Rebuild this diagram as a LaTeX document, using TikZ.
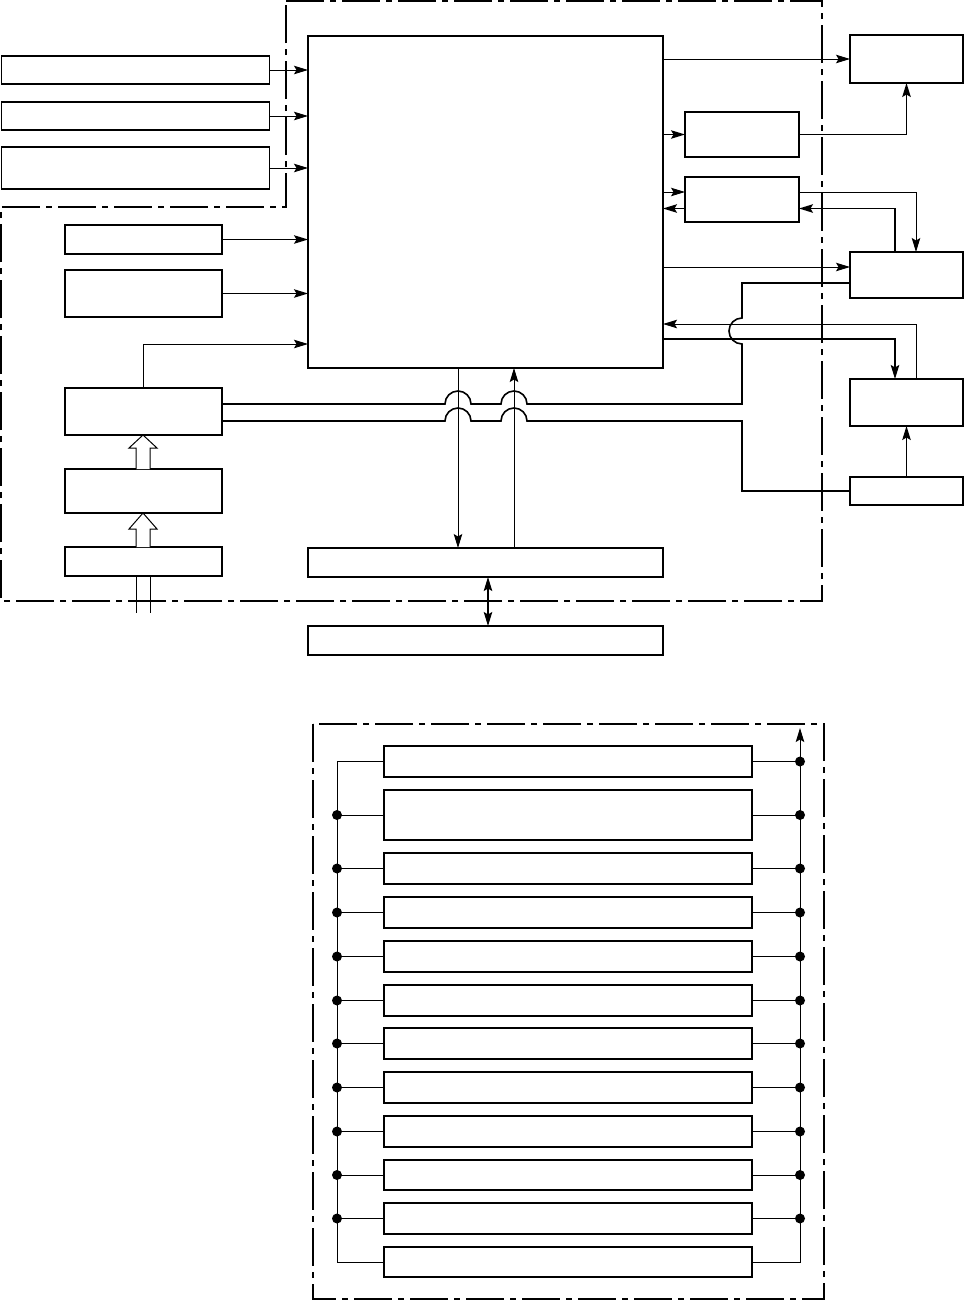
\documentclass[tikz,border=0pt]{standalone}
\usetikzlibrary{arrows.meta}
\begin{document}
\begin{tikzpicture}[x=1pt,y=-1pt,
  box/.style={draw, line width=1.6pt, inner sep=0pt, outer sep=0pt, anchor=north west},
  arr/.style={-{Stealth[length=14pt,width=8.5pt,inset=2.5pt]}, line width=1pt},
  darr/.style={{Stealth[length=14pt,width=8.5pt,inset=2.5pt]}-{Stealth[length=14pt,width=8.5pt,inset=2.5pt]}, line width=1.4pt},
  ln/.style={line width=1pt},
  thk/.style={line width=1.6pt},
  frame/.style={line width=2pt, dash pattern=on 38pt off 6pt on 6pt off 6pt},
  hollow/.style={line width=1pt, fill=white},
  dot/.style={circle, fill, inner sep=0pt, minimum size=10pt}]
\useasboundingbox (0,0) rectangle (965,1302);

% frames
\draw[frame] (286,1) -- (822,1) -- (822,601) -- (1,601) -- (1,207) -- (286,207) -- cycle;
\draw[frame] (313,724) rectangle (824,1299);

% left boxes
\node[box, minimum width=268pt, minimum height=28pt] (L1) at (1.5,56) {};
\node[box, minimum width=268pt, minimum height=28pt] (L2) at (1.5,102) {};
\node[box, minimum width=268pt, minimum height=42pt] (L3) at (1.5,147) {};
\node[box, minimum width=157pt, minimum height=29pt] (L4) at (65,225) {};
\node[box, minimum width=157pt, minimum height=47pt] (L5) at (65,270) {};
\node[box, minimum width=157pt, minimum height=47pt] (L6) at (65,388) {};
\node[box, minimum width=157pt, minimum height=44pt] (L7) at (65,469) {};
\node[box, minimum width=157pt, minimum height=29pt] (L8) at (65,547) {};

% main and bottom boxes
\node[box, minimum width=355pt, minimum height=332pt] (M) at (308,36) {};
\node[box, minimum width=355pt, minimum height=29pt] (B1) at (308,548) {};
\node[box, minimum width=355pt, minimum height=29pt] (B2) at (308,626) {};

% right boxes
\node[box, minimum width=113pt, minimum height=48pt] (R1) at (850,35) {};
\node[box, minimum width=114pt, minimum height=45pt] (R2) at (685,112) {};
\node[box, minimum width=114pt, minimum height=45pt] (R3) at (685,177) {};
\node[box, minimum width=113pt, minimum height=46pt] (R4) at (850,252) {};
\node[box, minimum width=113pt, minimum height=47pt] (R5) at (850,379) {};
\node[box, minimum width=113pt, minimum height=28pt] (R6) at (850,477) {};

% left inputs
\draw[arr] (L1.east) -- (L1.east -| M.west);
\draw[arr] (L2.east) -- (L2.east -| M.west);
\draw[arr] (L3.east) -- (L3.east -| M.west);
\draw[arr] (L4.east) -- (L4.east -| M.west);
\draw[arr] (L5.east) -- (L5.east -| M.west);
\draw[arr] (L6.north) |- (M.west |- 0,344);

% hollow arrows
\draw[hollow] (136,469) -- (136,448) -- (129,448) -- (143,435) -- (157,448) -- (150,448) -- (150,469);
\draw[hollow] (136,547) -- (136,529) -- (129,529) -- (143,513) -- (157,529) -- (150,529) -- (150,547);
\draw[ln] (136,576) -- (136,613);
\draw[ln] (150,576) -- (150,613);

% right side
\draw[arr] (M.east |- R1.west) -- (R1.west);
\draw[arr] (M.east |- R2.west) -- (R2.west);
\draw[arr, line width=1.3pt] (R2.east) -| (R1.south);
\draw[arr] (M.east |- 0,192) -- (R3.west |- 0,192);
\draw[arr] (R3.west |- 0,208.5) -- (M.east |- 0,208.5);
\draw[arr] (R3.east |- 0,192) -| (R4.north -| 916,0);
\draw[arr, line width=1.4pt] (R4.north -| 895,0) |- (R3.east |- 0,208.5);
\draw[arr] (M.east |- 0,267) -- (R4.west |- 0,267);
\draw[arr] (R5.north -| 916,0) |- (M.east |- 0,324);
\draw[arr, line width=1.4pt] (M.east |- 0,339) -| (R5.north -| 895,0);
\draw[arr] (R6.north) -- (R5.south);

% vertical links main <-> B1
\draw[arr] (M.south -| 458,0) -- (B1.north -| 458,0);
\draw[arr] (B1.north -| 514,0) -- (M.south -| 514,0);
\draw[darr] (B1.south -| 488,0) -- (B2.north -| 488,0);

% double lines with hops
\draw[thk] (L6.east |- 0,404) -- (445,404) arc[start angle=180, end angle=360, radius=13]
  -- (501,404) arc[start angle=180, end angle=360, radius=13]
  -- (742,404) -- (742,344) arc[start angle=90, end angle=270, radius=13]
  -- (742,283) -- (R4.west |- 0,283);
\draw[thk] (L6.east |- 0,421) -- (445,421) arc[start angle=180, end angle=360, radius=13]
  -- (501,421) arc[start angle=180, end angle=360, radius=13]
  -- (742,421) -- (742,491) -- (R6.west);

% lower section
\foreach \i/\t/\h in {1/746/31, 2/790/50, 3/853/31, 4/897/31, 5/941/31, 6/985/31,
                      7/1028/31, 8/1072/31, 9/1116/31, 10/1160/30, 11/1203/31, 12/1247/30} {
  \node[box, minimum width=368pt, minimum height=\h pt] (S\i) at (384,\t) {};
}
\draw[ln] (S1.west) -| (S12.west -| 337,0) -- (S12.west);
\draw[arr] (S12.east) -| (800,728);
\foreach \i in {2,...,11} {
  \draw[ln] (S\i.west) -- (S\i.west -| 337,0) node[dot] {};
}
\foreach \i in {1,...,11} {
  \draw[ln] (S\i.east) -- (S\i.east -| 800,0) node[dot] {};
}
\end{tikzpicture}
\end{document}
